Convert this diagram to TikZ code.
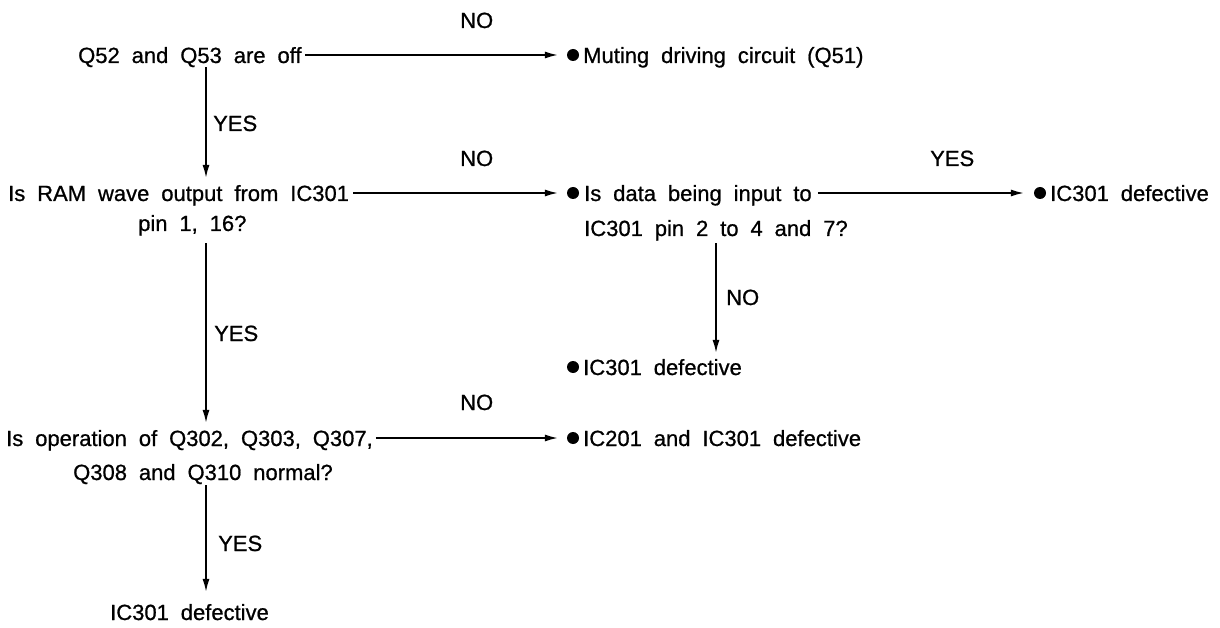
\documentclass[tikz,border=0pt]{standalone}
\usepackage{fontspec}
\setmainfont{Liberation Sans}[WordSpace={1.95,0,0}, FakeBold=0.8]
\usetikzlibrary{arrows.meta}
\begin{document}
\begin{tikzpicture}[x=1pt,y=-1pt,
  txt/.style={inner sep=0pt, anchor=west, font=\fontsize{22}{26}\selectfont, text height=16pt, text depth=0pt},
  lbl/.style={txt},
  bul/.style={circle, fill=black, inner sep=0pt, minimum size=12pt},
  arr/.style={-{Latex[length=13pt,width=7pt]}, line width=1.5pt}]
\useasboundingbox (0,0) rectangle (1220,628);
\coordinate (vx) at (206,0);
\coordinate (vy) at (716,0);
% row A
\node[txt] (q52) at (78,55) {Q52 and Q53 are off};
\node[bul] (b1) at (573,55) {};
\node[txt] (mute) at (583,55) {Muting driving circuit (Q51)};
\node[lbl] (no1) at (460,20) {NO};
\node[lbl] (yes1) at (213,123) {YES};
% row B
\node[txt] (ram) at (8,193) {Is RAM wave output from IC301};
\node[txt] (pin) at (138,223) {pin 1, 16?};
\node[lbl] (no2) at (460,158) {NO};
\node[bul] (b2) at (573,193) {};
\node[txt] (data) at (584,193) {Is data being input to};
\node[txt] (data2) at (584,228) {IC301 pin 2 to 4 and 7?};
\node[lbl] (yes2) at (930,158) {YES};
\node[bul] (b3) at (1040,193) {};
\node[txt] (def1) at (1050,193) {IC301 defective};
\node[lbl] (no3) at (726,297) {NO};
\node[bul] (b4) at (573,367) {};
\node[txt] (def2) at (583,367) {IC301 defective};
\node[lbl] (yes3) at (214,333) {YES};
% row C
\node[lbl] (no4) at (460,402) {NO};
\node[txt] (op) at (6,438) {Is operation of Q302, Q303, Q307,};
\node[bul] (b5) at (573,438) {};
\node[txt] (ic201) at (583,438) {IC201 and IC301 defective};
\node[txt] (op2) at (73,472) {Q308 and Q310 normal?};
\node[lbl] (yes4) at (218,543) {YES};
\node[txt] (def3) at (110,612) {IC301 defective};
% connectors
\draw[arr, shorten <=3pt, shorten >=9pt] (q52.east) -- (b1.west);
\draw[arr, shorten <=4pt, shorten >=7pt] (q52.south -| vx) -- (ram.north -| vx);
\draw[arr, shorten <=4pt, shorten >=9pt] (ram.east) -- (b2.west);
\draw[arr, shorten <=6pt, shorten >=10pt] (data.east) -- (b3.west);
\draw[arr, shorten <=7pt, shorten >=6pt] (data2.south -| vy) -- (def2.north -| vy);
\draw[arr, shorten <=12pt, shorten >=7pt] (pin.south -| vx) -- (op.north -| vx);
\draw[arr, shorten <=3pt, shorten >=9pt] (op.east) -- (b5.west);
\draw[arr, shorten <=5pt, shorten >=12pt] (op2.south -| vx) -- (def3.north -| vx);
\end{tikzpicture}
\end{document}
